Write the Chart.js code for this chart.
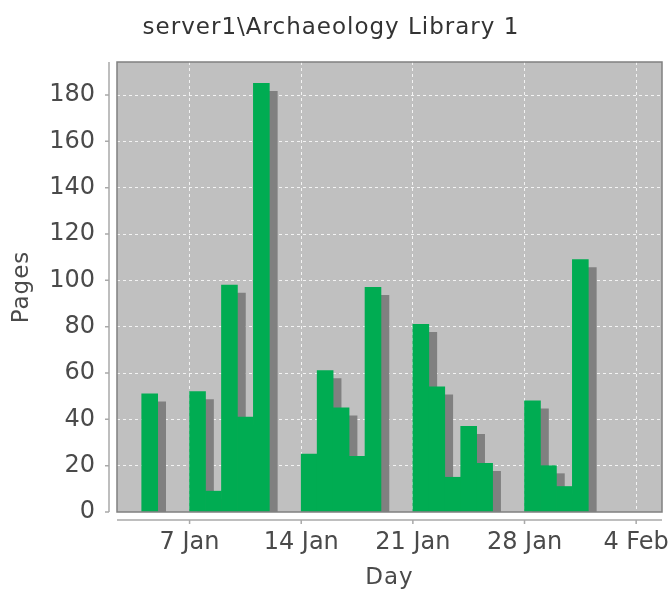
<!DOCTYPE html>
<html>
<head>
<meta charset="utf-8">
<script src="https://cdn.jsdelivr.net/npm/chart.js@4/dist/chart.umd.min.js"></script>
<style>
  html, body { margin: 0; padding: 0; background: #ffffff; }
  #wrap { width: 672px; height: 592px; }
</style>
</head>
<body>
<div id="wrap"><canvas id="chart" width="672" height="592"></canvas></div>
<script>
// Pages per day; days are counted from 1 January (35 = 4 February)
const days  = [4, 7, 8, 9, 10, 11, 14, 15, 16, 17, 18, 21, 22, 23, 24, 25, 28, 29, 30, 31];
const pages = [51, 52, 9, 98, 41, 185, 25, 61, 45, 24, 97, 81, 54, 15, 37, 21, 48, 20, 11, 109];

// Weekly date ticks on the horizontal axis
const tickDays   = [7, 14, 21, 28, 35];
const tickLabels = ['7 Jan', '14 Jan', '21 Jan', '28 Jan', '4 Feb'];

const FONT = "'DejaVu Sans', sans-serif";
const TEXT = '#4a4a4a';
const GRID = 'rgba(255,255,255,0.8)';
const AXIS = '#a9a9a9';

// Grey plot background, dark frame, and axis lines set slightly apart from the plot
const plotFrame = {
  id: 'plotFrame',
  beforeDraw(chart) {
    const { ctx, chartArea: a } = chart;
    ctx.save();
    ctx.fillStyle = 'rgb(192,192,192)';
    ctx.fillRect(a.left, a.top, a.right - a.left, a.bottom - a.top);
    ctx.restore();
    // the heading and axis titles are set a little wider
    ctx.letterSpacing = '1px';
  },
  beforeDatasetsDraw(chart) {
    chart.ctx.letterSpacing = '0px';
  },
  afterDraw(chart) {
    const { ctx, chartArea: a, scales } = chart;
    ctx.save();
    ctx.strokeStyle = 'rgb(128,128,128)';
    ctx.lineWidth = 1.5;
    ctx.strokeRect(a.left, a.top, a.right - a.left, a.bottom - a.top);

    ctx.strokeStyle = AXIS;
    ctx.lineWidth = 1.5;
    const gap = 8, tick = 4;
    // vertical axis
    const ax = a.left - gap;
    ctx.beginPath();
    ctx.moveTo(ax, a.top);
    ctx.lineTo(ax, a.bottom);
    scales.y.ticks.forEach(t => {
      const py = scales.y.getPixelForValue(t.value);
      ctx.moveTo(ax - tick, py);
      ctx.lineTo(ax, py);
    });
    // horizontal axis
    const ay = a.bottom + gap;
    ctx.moveTo(a.left, ay);
    ctx.lineTo(a.right, ay);
    scales.x.ticks.forEach(t => {
      const px = scales.x.getPixelForValue(t.value);
      ctx.moveTo(px, ay);
      ctx.lineTo(px, ay + tick);
    });
    ctx.stroke();
    ctx.restore();
  }
};

// Flat grey drop shadow under each bar
const barShadow = {
  id: 'barShadow',
  beforeDatasetDraw(chart) {
    const ctx = chart.ctx;
    ctx.save();
    ctx.shadowColor = 'rgb(128,128,128)';
    ctx.shadowOffsetX = 8;
    ctx.shadowOffsetY = 8;
    ctx.shadowBlur = 0;
  },
  afterDatasetDraw(chart) {
    chart.ctx.restore();
  }
};

new Chart(document.getElementById('chart'), {
  type: 'bar',
  data: {
    datasets: [{
      label: 'Pages',
      // each bar covers its whole day
      data: days.map((d, i) => ({ x: d + 0.5, y: pages[i] })),
      backgroundColor: 'rgb(0,172,82)',
      borderWidth: 0,
      barPercentage: 1,
      categoryPercentage: 1,
      clip: 0
    }]
  },
  options: {
    responsive: false,
    animation: false,
    layout: { padding: { left: 0, right: 10, top: 0, bottom: 0 } },
    plugins: {
      legend: { display: false },
      tooltip: { enabled: false },
      title: {
        display: true,
        text: 'server1\\Archaeology Library 1',
        color: '#333333',
        font: { family: FONT, size: 23, weight: 'normal' },
        padding: { top: 14.2, bottom: 20.2 }
      }
    },
    scales: {
      x: {
        type: 'linear',
        min: 2.45,
        max: 36.62,
        offset: false,
        grid: { offset: false, color: GRID, lineWidth: 1, drawTicks: false, borderDash: [3, 3] },
        border: { display: false, dash: [3, 3] },
        afterBuildTicks(scale) {
          scale.ticks = tickDays.map(v => ({ value: v }));
        },
        afterFit(scale) {
          scale.height = 80;
          scale.paddingLeft = 0;
          scale.paddingRight = 0;
        },
        ticks: {
          z: 1,
          color: TEXT,
          padding: 16,
          maxRotation: 0,
          autoSkip: false,
          font: { family: FONT, size: 24 },
          callback(value) {
            const i = tickDays.indexOf(value);
            return i >= 0 ? tickLabels[i] : '';
          }
        },
        title: {
          display: true,
          text: 'Day',
          color: TEXT,
          font: { family: FONT, size: 23 },
          padding: { top: 0, bottom: 0 }
        }
      },
      y: {
        min: 0,
        max: 194.25,
        grid: { color: GRID, lineWidth: 1, drawTicks: false, borderDash: [3, 3] },
        border: { display: false, dash: [3, 3] },
        afterFit(scale) {
          scale.width = 117;
          scale.paddingTop = 0;
          scale.paddingBottom = 0;
        },
        ticks: {
          z: 1,
          stepSize: 20,
          includeBounds: false,
          color: TEXT,
          padding: 22,
          font: { family: FONT, size: 24 }
        },
        title: {
          display: true,
          text: 'Pages',
          color: TEXT,
          font: { family: FONT, size: 23 },
          padding: { top: 8, bottom: 0 }
        }
      }
    }
  },
  plugins: [plotFrame, barShadow]
});
</script>
</body>
</html>
